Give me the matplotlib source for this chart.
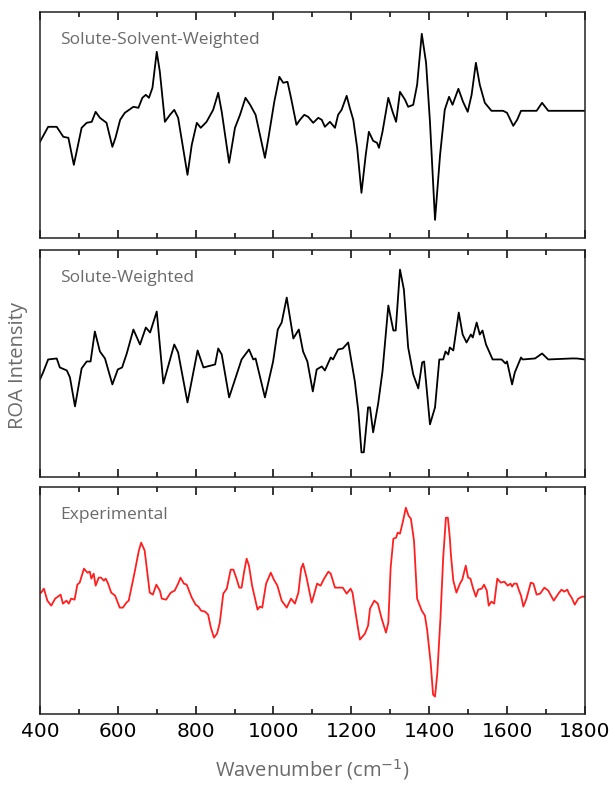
import numpy as np
import matplotlib
matplotlib.use("Agg")
import matplotlib.pyplot as plt
from matplotlib.ticker import MultipleLocator

# computed ROA spectrum, solute-solvent weighted
wn_ssw = [400, 421, 443, 460, 473, 487, 507, 520, 533, 543, 554, 571, 586, 594, 606, 618,
          640, 653, 663, 672, 680, 689, 700, 708, 721, 734, 745, 755, 779, 790, 803, 813,
          828, 845, 858, 867, 886, 901, 914, 928, 940, 954, 978, 987, 1002, 1015, 1025,
          1036, 1045, 1059, 1068, 1079, 1089, 1102, 1115, 1124, 1132, 1145, 1158, 1166,
          1175, 1188, 1196, 1205, 1215, 1226, 1237, 1245, 1256, 1266, 1271, 1280, 1295,
          1306, 1315, 1325, 1338, 1346, 1359, 1369, 1381, 1392, 1402, 1415, 1428, 1440,
          1451, 1460, 1475, 1487, 1499, 1509, 1520, 1530, 1543, 1560, 1590, 1600, 1616,
          1626, 1636, 1676, 1690, 1706, 1800]
roa_ssw = [-31, -16, -16, -26, -27, -54, -17, -12, -11, -1, -7, -12, -36, -27, -9, -2,
           4, 3, 13, 16, 13, 23, 59, 39, -11, -4, 1, -7, -64, -34, -12, -17,
           -11, 1, 18, -1, -52, -17, -4, 13, 6, -4, -47, -27, 9, 34, 28,
           29, 13, -14, -9, -4, -6, -12, -7, -9, -16, -11, -17, -4,
           1, 15, 3, -9, -37, -82, -44, -21, -30, -32, -37, -21, 13,
           -1, -11, 19, 11, 4, 6, 26, 77, 48, -11, -109, -44, 1,
           14, 6, 22, 9, -1, 16, 48, 26, 8, 0, 0, -2, -15,
           -9, 0, 0, 8, 0, 0]

# computed ROA spectrum, solute weighted
wn_sw = [400, 408, 421, 443, 451, 469, 477, 490, 507, 520, 530, 541, 554, 567, 586, 600,
         611, 623, 640, 657, 672, 683, 700, 717, 745, 755, 779, 805, 820, 850, 858, 867,
         886, 918, 937, 948, 954, 978, 999, 1011, 1021, 1034, 1051, 1065, 1076, 1087,
         1101, 1111, 1124, 1132, 1147, 1153, 1166, 1178, 1192, 1209, 1218, 1226, 1232,
         1243, 1248, 1256, 1269, 1280, 1295, 1308, 1314, 1325, 1335, 1346, 1359, 1372,
         1382, 1387, 1402, 1415, 1426, 1436, 1442, 1449, 1453, 1462, 1476, 1486, 1496,
         1507, 1512, 1522, 1530, 1537, 1546, 1563, 1586, 1596, 1600, 1613, 1620, 1636,
         1640, 1672, 1690, 1706, 1766, 1779, 1800]
roa_sw = [-20, -13, 0, 1, -8, -11, -18, -47, -9, -2, -2, 28, 8, 1, -25, -10,
          -8, 6, 30, 15, 32, 27, 48, -24, 15, 7, -43, 9, -8, -5, 11, 5,
          -38, 0, 10, 0, 1, -38, -2, 30, 37, 62, 21, 30, 8, -2,
          -32, -10, -7, -11, 2, 0, 10, 11, 17, -22, -52, -93, -93,
          -48, -48, -73, -44, -12, 54, 29, 29, 90, 70, 12, -15, -29,
          -3, -2, -65, -48, 0, 0, 8, 5, 12, 9, 47, 25, 17,
          25, 22, 37, 25, 29, 15, 0, 0, -4, -2, -25, -13, 2,
          0, 1, 6, 0, 1, 1, 0]

# measured ROA spectrum
wn_exp = [403, 410, 419, 429, 439, 453, 459, 468, 474, 480, 489, 496, 502, 513, 522, 528,
          532, 538, 543, 551, 557, 564, 569, 575, 583, 593, 605, 613, 622, 628, 643, 654,
          660, 669, 682, 690, 699, 708, 713, 724, 736, 746, 755, 761, 770, 777, 790, 800,
          807, 814, 824, 832, 839, 847, 855, 862, 871, 880, 890, 897, 905, 912, 918, 925,
          931, 937, 945, 959, 965, 971, 981, 993, 1001, 1010, 1021, 1034, 1045, 1055,
          1064, 1071, 1076, 1085, 1098, 1102, 1112, 1121, 1130, 1141, 1147, 1158, 1166,
          1178, 1188, 1198, 1203, 1214, 1222, 1235, 1243, 1248, 1259, 1268, 1278, 1289,
          1295, 1301, 1308, 1315, 1319, 1325, 1333, 1340, 1347, 1353, 1361, 1369, 1381,
          1389, 1395, 1404, 1410, 1415, 1421, 1429, 1436, 1443, 1448, 1453, 1456, 1462,
          1470, 1479, 1485, 1494, 1500, 1506, 1513, 1520, 1526, 1535, 1541, 1548, 1553,
          1560, 1567, 1575, 1584, 1593, 1602, 1609, 1613, 1618, 1625, 1631, 1636, 1642,
          1650, 1661, 1668, 1676, 1685, 1696, 1706, 1713, 1720, 1732, 1740, 1747, 1755,
          1759, 1766, 1774, 1783, 1793, 1798]
roa_exp = [8, 12, 0, -5, 2, 6, -3, 0, -3, 2, 1, 16, 18, 32, 28, 29,
           22, 27, 15, 23, 23, 20, 22, 17, 8, 5, -7, -7, -2, 0, 28, 50,
           58, 50, 8, 6, 16, 10, 2, 1, 8, 10, 17, 23, 17, 16, 3, -4,
           -6, -10, -11, -14, -27, -37, -33, -22, 7, 12, 31, 31, 22, 13, 13, 30,
           42, 35, 15, -9, -6, -7, 17, 28, 21, 15, 0, -7, 2, -3,
           8, 32, 37, 23, -2, 3, 17, 15, 22, 29, 27, 13, 13,
           13, 7, 12, 8, -20, -39, -33, -25, -8, 0, -3, -18, -32,
           -22, 33, 62, 63, 68, 67, 80, 93, 85, 82, 60, 2, -10,
           -15, -30, -63, -94, -96, -72, -17, 43, 83, 83, 63, 45, 20,
           8, 17, 21, 35, 23, 22, 12, 4, 11, 12, 16, 10, -5,
           -1, -3, 22, 18, 19, 15, 17, 14, 17, 17, 10, 5, -6,
           2, 18, 17, 6, 7, 13, 10, 5, 0, 7, 11, 9, 11,
           7, 3, -4, 2, 4, 4]

panel_names = ["Solute-Solvent-Weighted", "Solute-Weighted", "Experimental"]

plt.rcParams['font.family'] = ['DejaVu Sans']
label_grey = '#6a6a6a'

fig = plt.figure(figsize=(6.15, 7.85), dpi=100)

boxes = [[0.065, 0.697, 0.886, 0.288],
         [0.065, 0.392, 0.886, 0.290],
         [0.065, 0.091, 0.886, 0.289]]
series = [(wn_ssw, roa_ssw, 'black', (-127, 99)),
          (wn_sw, roa_sw, 'black', (-118, 110)),
          (wn_exp, roa_exp, '#ff1f1f', (-113, 114))]

axes = []
for box, (wn, roa, col, ylim), name in zip(boxes, series, panel_names):
    ax = fig.add_axes(box)
    ax.plot(wn, roa, color=col, lw=1.3)
    ax.set_xlim(400, 1800)
    ax.set_ylim(*ylim)
    ax.set_yticks([])
    ax.xaxis.set_major_locator(MultipleLocator(200))
    ax.xaxis.set_minor_locator(MultipleLocator(100))
    ax.tick_params(axis='x', which='both', direction='in', top=True, bottom=True,
                   width=1.1, labelbottom=False)
    ax.tick_params(axis='x', which='major', length=6)
    ax.tick_params(axis='x', which='minor', length=3.5)
    for sp in ax.spines.values():
        sp.set_linewidth(1.1)
        sp.set_color('#222222')
    ax.text(0.037, 0.875, name, transform=ax.transAxes, fontsize=12.5,
            color=label_grey, va='center', ha='left', family='Open Sans')
    axes.append(ax)

axes[-1].tick_params(axis='x', labelbottom=True, labelsize=14.5, pad=6)
axes[-1].set_xlabel("Wavenumber (cm$^{-1}$)", fontsize=14.5, color=label_grey,
                    family='Open Sans', labelpad=12)
fig.text(0.03, 0.535, "ROA Intensity", rotation=90, fontsize=14.5, color=label_grey,
         family='Open Sans', ha='center', va='center')

fig.savefig("out.png", dpi=100)
